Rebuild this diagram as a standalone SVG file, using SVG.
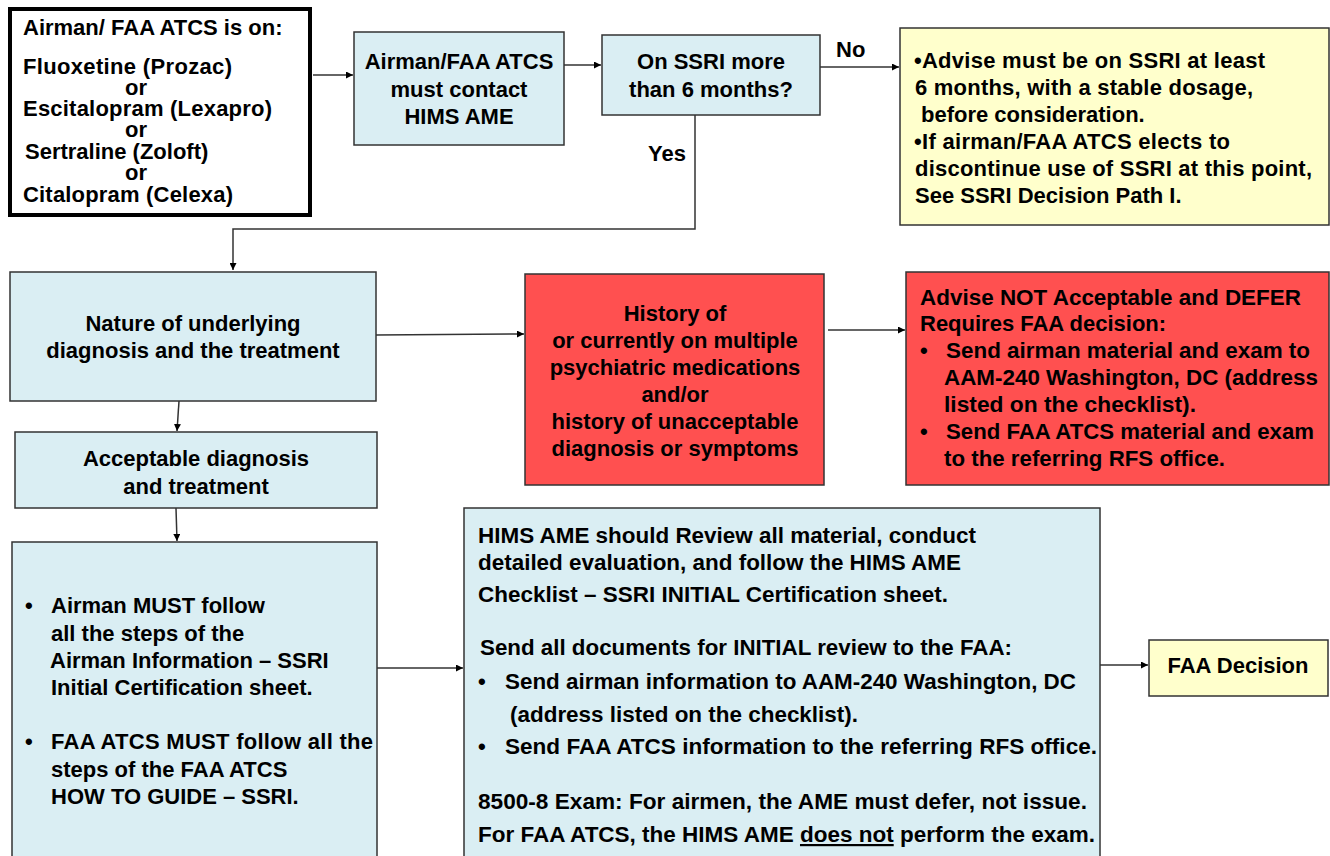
<svg xmlns="http://www.w3.org/2000/svg" width="1330" height="856" viewBox="0 0 1330 856">
<style>
text{font-family:"Liberation Sans",Arial,sans-serif;font-weight:bold;font-size:22px;fill:#000}
.c{text-anchor:middle}
.blue{fill:#DAEEF3;stroke:#333;stroke-width:1.5}
.red{fill:#FF5050;stroke:#333;stroke-width:1.5}
.yel{fill:#FFFFCC;stroke:#333;stroke-width:1.5}
.con{fill:none;stroke:#333;stroke-width:1.5}
</style>
<defs>
<marker id="ah" viewBox="0 0 10 10" refX="10" refY="5" markerWidth="7" markerHeight="7" markerUnits="userSpaceOnUse" orient="auto">
<path d="M0,0 L10,5 L0,10 z" fill="#000"/>
</marker>
</defs>
<rect width="1330" height="856" fill="#fff"/>
<g id="connectors">
<path class="con" d="M313,75 H353" marker-end="url(#ah)"/>
<path class="con" d="M564,65 H601" marker-end="url(#ah)"/>
<path class="con" d="M820,67 H899" marker-end="url(#ah)"/>
<path class="con" d="M695,115 V229 H233 V270" marker-end="url(#ah)"/>
<path class="con" d="M376,335 L524,334" marker-end="url(#ah)"/>
<path class="con" d="M828,330 H905" marker-end="url(#ah)"/>
<path class="con" d="M179,401 L177,431" marker-end="url(#ah)"/>
<path class="con" d="M176,508 L177,541" marker-end="url(#ah)"/>
<path class="con" d="M377,668 H463" marker-end="url(#ah)"/>
<path class="con" d="M1100,665 H1148" marker-end="url(#ah)"/>
<text x="836" y="57">No</text>
<text x="648" y="161">Yes</text>
</g>
<g id="n1">
<rect x="10" y="9" width="300" height="206" fill="#fff" stroke="#000" stroke-width="4"/>
<text x="23" y="35">Airman/ FAA ATCS is on:</text>
<text x="23" y="74" textLength="209" lengthAdjust="spacing">Fluoxetine  (Prozac)</text>
<text x="125" y="95">or</text>
<text x="23" y="116" textLength="249" lengthAdjust="spacing">Escitalopram  (Lexapro)</text>
<text x="125" y="137">or</text>
<text x="25" y="159">Sertraline (Zoloft)</text>
<text x="125" y="180">or</text>
<text x="23" y="202" textLength="210" lengthAdjust="spacing">Citalopram  (Celexa)</text>
</g>
<g id="n2">
<rect class="blue" x="354" y="32" width="210" height="113"/>
<text class="c" x="459" y="69">Airman/FAA  ATCS</text>
<text class="c" x="459" y="97">must contact</text>
<text class="c" x="459" y="124">HIMS AME</text>
</g>
<g id="n3">
<rect class="blue" x="602" y="35" width="218" height="80"/>
<text class="c" x="711" y="69">On SSRI more</text>
<text class="c" x="711" y="97">than 6 months?</text>
</g>
<g id="n4">
<rect class="yel" x="900" y="28" width="429" height="197"/>
<text x="914" y="68" textLength="351" lengthAdjust="spacing">•Advise  must be on SSRI at least</text>
<text x="915" y="95" textLength="338" lengthAdjust="spacing">6 months, with a stable dosage,</text>
<text x="921" y="122">before consideration.</text>
<text x="914" y="149" textLength="316" lengthAdjust="spacing">•If airman/FAA  ATCS elects to</text>
<text x="915" y="176" textLength="397" lengthAdjust="spacing">discontinue  use of SSRI at this point,</text>
<text x="915" y="203">See  SSRI Decision Path I.</text>
</g>
<g id="n5">
<rect class="blue" x="10" y="272" width="366" height="129"/>
<text class="c" x="193" y="331">Nature of underlying</text>
<text class="c" x="193" y="358">diagnosis  and the treatment</text>
</g>
<g id="n6">
<rect class="red" x="525" y="274" width="299" height="211"/>
<text class="c" x="675" y="321">History of</text>
<text class="c" x="675" y="348">or currently on multiple</text>
<text class="c" x="675" y="375">psychiatric medications</text>
<text class="c" x="675" y="402">and/or</text>
<text class="c" x="675" y="429">history of unacceptable</text>
<text class="c" x="675" y="456">diagnosis or symptoms</text>
</g>
<g id="n7">
<rect class="red" x="906" y="272" width="423" height="213"/>
<text x="920" y="305" textLength="381" lengthAdjust="spacingAndGlyphs">Advise  NOT Acceptable  and DEFER</text>
<text x="920" y="331">Requires FAA decision:</text>
<text x="920" y="358">•</text>
<text x="946" y="358" textLength="364" lengthAdjust="spacingAndGlyphs">Send airman material and exam to</text>
<text x="944" y="385" textLength="374" lengthAdjust="spacingAndGlyphs">AAM-240  Washington, DC (address</text>
<text x="944" y="412" textLength="252" lengthAdjust="spacingAndGlyphs">listed on the checklist).</text>
<text x="920" y="439">•</text>
<text x="946" y="439" textLength="368" lengthAdjust="spacingAndGlyphs">Send FAA ATCS material and exam</text>
<text x="944" y="466" textLength="281" lengthAdjust="spacingAndGlyphs">to the referring RFS office.</text>
</g>
<g id="n8">
<rect class="blue" x="15" y="432" width="362" height="76"/>
<text class="c" x="196" y="466">Acceptable  diagnosis</text>
<text class="c" x="196" y="494">and treatment</text>
</g>
<g id="n9">
<rect class="blue" x="12" y="542" width="365" height="320"/>
<text x="25" y="613">•</text>
<text x="51" y="613">Airman  MUST follow</text>
<text x="51" y="641">all  the steps  of  the</text>
<text x="50" y="668">Airman  Information  – SSRI</text>
<text x="51" y="695">Initial  Certification  sheet.</text>
<text x="25" y="749">•</text>
<text x="51" y="749" textLength="322" lengthAdjust="spacing">FAA ATCS MUST follow all the</text>
<text x="51" y="777">steps of the FAA ATCS</text>
<text x="51" y="804">HOW TO GUIDE – SSRI.</text>
</g>
<g id="n10">
<rect class="blue" x="464" y="508" width="636" height="354"/>
<text x="478" y="543" textLength="498" lengthAdjust="spacingAndGlyphs">HIMS AME should Review all material, conduct</text>
<text x="478" y="570" textLength="483" lengthAdjust="spacingAndGlyphs">detailed evaluation, and follow the HIMS AME</text>
<text x="478" y="602" textLength="470" lengthAdjust="spacingAndGlyphs">Checklist – SSRI INITIAL  Certification sheet.</text>
<text x="480" y="655" textLength="532" lengthAdjust="spacingAndGlyphs">Send all documents for INITIAL  review to the FAA:</text>
<text x="478" y="689">•</text>
<text x="505" y="689" textLength="571" lengthAdjust="spacingAndGlyphs">Send airman information  to AAM-240  Washington, DC</text>
<text x="510" y="722" textLength="348" lengthAdjust="spacingAndGlyphs">(address listed on the checklist).</text>
<text x="478" y="754">•</text>
<text x="505" y="754" textLength="592" lengthAdjust="spacingAndGlyphs">Send FAA ATCS  information  to the referring RFS office.</text>
<text x="478" y="809" textLength="609" lengthAdjust="spacingAndGlyphs">8500-8 Exam: For airmen, the AME must defer, not issue.</text>
<text x="478" y="842" textLength="617" lengthAdjust="spacingAndGlyphs">For FAA ATCS, the HIMS AME <tspan text-decoration="underline">does not</tspan> perform the exam.</text>
</g>
<g id="n11">
<rect class="yel" x="1149" y="640" width="179" height="56"/>
<text class="c" x="1238" y="673">FAA Decision</text>
</g>
</svg>
